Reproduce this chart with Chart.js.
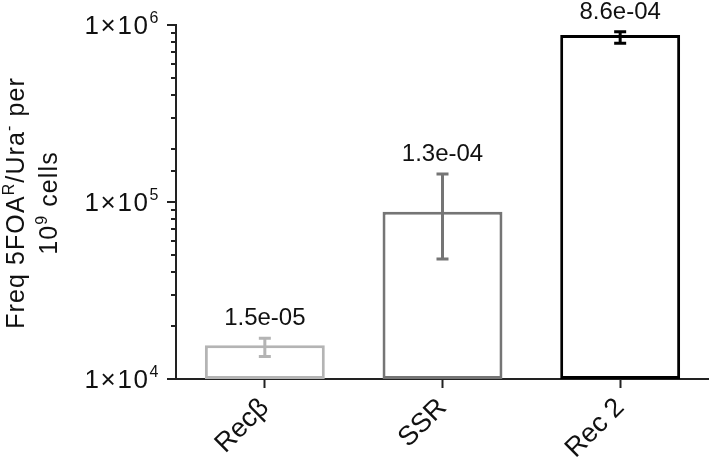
<!DOCTYPE html>
<html>
<head>
<meta charset="utf-8">
<script src="https://cdn.jsdelivr.net/npm/chart.js@4/dist/chart.umd.min.js"></script>
<style>
  body { margin: 0; background: #fff; }
  canvas { display: block; }
</style>
</head>
<body>
<canvas id="freqChart" width="709" height="464"></canvas>
<script>
const categories = ['Recβ', 'SSR', 'Rec 2'];
const freqValues = [15500, 88000, 878000];
const errLow = [13400, 47600, 788000];
const errHigh = [17000, 144000, 917000];
const valueLabels = ['1.5e-05', '1.3e-04', '8.6e-04'];
const barColors = ['#b4b4b4', '#757575', '#000000'];
const yTickValues = [10000, 100000, 1000000];
const yTickBase = ['1×10', '1×10', '1×10'];
const yTickExp = ['4', '5', '6'];
// axis title, pieces marked sup are raised
const titleLine1 = [['Freq 5FOA', false], ['R', true], ['/Ura', false], ['-', true], [' per', false]];
const titleLine2 = [['10', false], ['9', true], [' cells', false]];

const FONT = "'Liberation Sans', Arial, sans-serif";
const AXIS = '#222222';
const TEXT = '#111111';

// error bars + value text above each bar
const errorBars = {
    id: 'errorBars',
    afterDatasetsDraw(chart) {
        const ctx = chart.ctx;
        const x = chart.scales.x, y = chart.scales.y;
        ctx.save();
        categories.forEach((c, i) => {
            const px = x.getPixelForValue(i);
            const top = y.getPixelForValue(errHigh[i]);
            const bot = y.getPixelForValue(errLow[i]);
            ctx.strokeStyle = barColors[i];
            ctx.lineWidth = 3;
            ctx.beginPath();
            ctx.moveTo(px, top); ctx.lineTo(px, bot);
            ctx.moveTo(px - 6, top); ctx.lineTo(px + 6, top);
            ctx.moveTo(px - 6, bot); ctx.lineTo(px + 6, bot);
            ctx.stroke();

            ctx.fillStyle = TEXT;
            ctx.font = '24px ' + FONT;
            ctx.textAlign = 'center';
            ctx.textBaseline = 'alphabetic';
            ctx.fillText(valueLabels[i], px, top - 13);
        });
        ctx.restore();
    }
};

function richWidth(ctx, parts, size, supSize) {
    let w = 0;
    parts.forEach(([t, sup]) => {
        ctx.font = (sup ? supSize : size) + 'px ' + FONT;
        w += ctx.measureText(t).width;
    });
    return w;
}

function drawRich(ctx, parts, x0, size, supSize, raise) {
    let x = x0;
    parts.forEach(([t, sup]) => {
        ctx.font = (sup ? supSize : size) + 'px ' + FONT;
        ctx.fillText(t, x, sup ? -raise : 0);
        x += ctx.measureText(t).width;
    });
}

// log axis: tick marks (long for decades), 1×10^n labels, two-line title
const logAxis = {
    id: 'logAxis',
    afterDraw(chart) {
        const ctx = chart.ctx;
        const y = chart.scales.y;
        ctx.save();
        ctx.strokeStyle = AXIS;
        ctx.lineWidth = 2;
        y.ticks.forEach(t => {
            const py = Math.round(y.getPixelForValue(t.value));
            const len = yTickValues.includes(t.value) ? 9 : 5;
            ctx.beginPath();
            ctx.moveTo(y.right - len, py);
            ctx.lineTo(y.right, py);
            ctx.stroke();
        });

        ctx.fillStyle = TEXT;
        ctx.textBaseline = 'alphabetic';
        ctx.textAlign = 'left';
        ctx.letterSpacing = '1.6px';
        yTickValues.forEach((v, i) => {
            const py = y.getPixelForValue(v);
            const parts = [[yTickBase[i], false], [yTickExp[i], true]];
            const w = richWidth(ctx, parts, 26, 16);
            ctx.save();
            ctx.translate(y.right - 16 - w, py + 9);
            drawRich(ctx, parts, 0, 26, 16, 11);
            ctx.restore();
        });

        ctx.letterSpacing = '1.1px';
        const cy = (chart.chartArea.top + chart.chartArea.bottom) / 2 + 1;
        [[titleLine1, 24], [titleLine2, 57]].forEach(([parts, bx]) => {
            const w = richWidth(ctx, parts, 25, 16);
            ctx.save();
            ctx.translate(bx, cy);
            ctx.rotate(-Math.PI / 2);
            drawRich(ctx, parts, -w / 2, 25, 16, 10);
            ctx.restore();
        });
        ctx.restore();
    }
};

const chart = new Chart(document.getElementById('freqChart'), {
    type: 'bar',
    data: {
        labels: categories,
        datasets: [{
            data: freqValues,
            backgroundColor: '#ffffff',
            borderColor: barColors,
            borderWidth: 3,
            borderSkipped: false,
            barPercentage: 0.675,
            categoryPercentage: 1
        }]
    },
    options: {
        responsive: false,
        animation: false,
        layout: { padding: { top: 25, right: 0, left: 0, bottom: 0 } },
        plugins: {
            legend: { display: false },
            tooltip: { enabled: false }
        },
        scales: {
            x: {
                afterFit: s => { s.height = 85; },
                border: { display: true, color: AXIS, width: 2 },
                grid: {
                    offset: false,
                    drawOnChartArea: false,
                    drawTicks: true,
                    tickLength: 9,
                    tickColor: AXIS,
                    tickWidth: 2
                },
                ticks: {
                    color: TEXT,
                    font: { family: FONT, size: 27 },
                    minRotation: 45,
                    maxRotation: 45,
                    padding: 4
                }
            },
            y: {
                type: 'logarithmic',
                min: 10000,
                max: 1000000,
                afterFit: s => { s.width = 176; },
                border: { display: true, color: AXIS, width: 2 },
                grid: { drawOnChartArea: false, drawTicks: false },
                ticks: { display: false, autoSkip: false },
                title: { display: false }
            }
        }
    },
    plugins: [errorBars, logAxis]
});
</script>
</body>
</html>
